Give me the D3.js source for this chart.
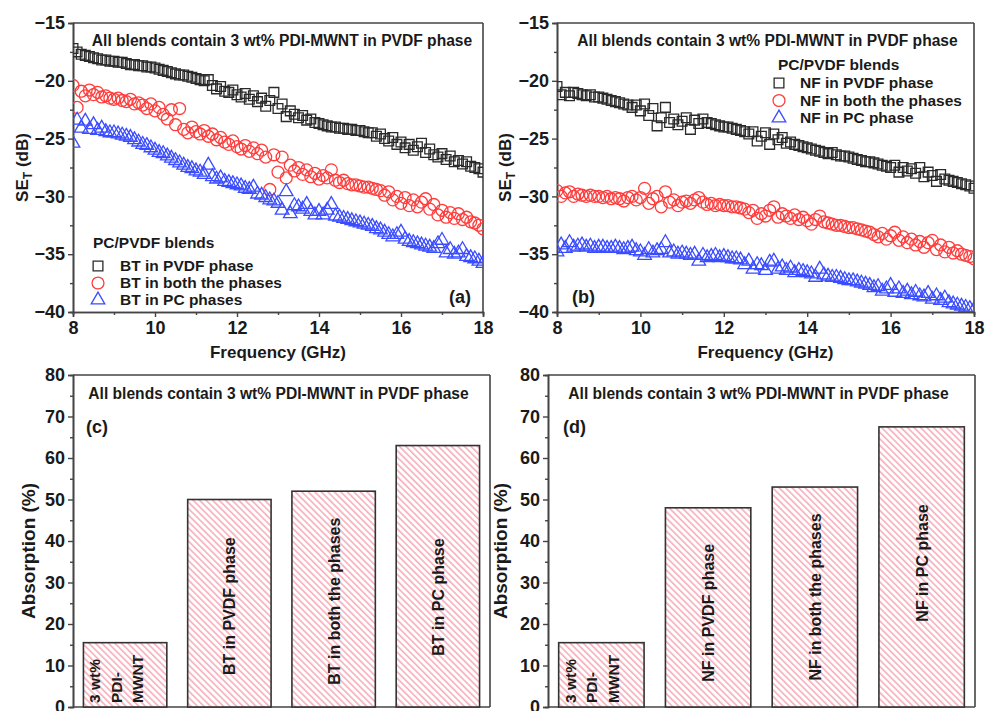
<!DOCTYPE html>
<html><head><meta charset="utf-8">
<script src="https://cdn.jsdelivr.net/npm/d3@7"></script>
<style>
body{margin:0;background:#fff;}
svg{display:block;font-family:"Liberation Sans",Arial,sans-serif;font-weight:bold;}
</style></head><body>
<svg id="c" width="985" height="711"></svg>
<script>
// ---------- DATA ----------
const freq = [8.0,8.1,8.2,8.3,8.4,8.5,8.6,8.7,8.8,8.9,9.0,9.1,9.2,9.3,9.4,9.5,9.6,9.7,9.8,9.9,
10.0,10.1,10.2,10.3,10.4,10.5,10.6,10.7,10.8,10.9,11.0,11.1,11.2,11.3,11.4,11.5,11.6,11.7,11.8,11.9,
12.0,12.1,12.2,12.3,12.4,12.5,12.6,12.7,12.8,12.9,13.0,13.1,13.2,13.3,13.4,13.5,13.6,13.7,13.8,13.9,
14.0,14.1,14.2,14.3,14.4,14.5,14.6,14.7,14.8,14.9,15.0,15.1,15.2,15.3,15.4,15.5,15.6,15.7,15.8,15.9,
16.0,16.1,16.2,16.3,16.4,16.5,16.6,16.7,16.8,16.9,17.0,17.1,17.2,17.3,17.4,17.5,17.6,17.7,17.8,17.9,18.0];

const btPVDF = [-17.2,-17.5,-17.7,-17.8,-17.9,-18.0,-18.1,-18.2,-18.2,-18.3,-18.3,-18.4,-18.4,-18.5,-18.6,-18.6,-18.7,-18.7,-18.8,-18.8,
-18.9,-19.0,-19.1,-19.2,-19.3,-19.4,-19.5,-19.5,-19.6,-19.7,-19.8,-19.9,-20.0,-19.9,-20.4,-20.7,-20.5,-20.9,-21.0,-20.8,
-21.2,-21.4,-21.1,-21.6,-21.3,-21.8,-21.5,-22.2,-21.7,-21.0,-22.4,-22.0,-23.1,-22.6,-22.9,-23.2,-23.0,-23.4,-23.3,-23.6,
-23.7,-23.8,-23.9,-24.0,-24.0,-24.1,-24.1,-24.2,-24.2,-24.3,-24.3,-24.4,-24.5,-24.5,-24.8,-24.6,-25.0,-25.2,-24.9,-25.5,
-25.3,-25.8,-25.5,-26.0,-25.7,-25.4,-26.2,-25.9,-26.4,-26.6,-26.3,-26.8,-26.5,-27.0,-26.9,-27.2,-27.0,-27.4,-27.5,-27.6,-27.9];

const btBoth = [-20.4,-22.3,-20.9,-21.3,-20.8,-21.2,-21.0,-21.4,-21.3,-21.5,-21.6,-21.5,-21.7,-21.8,-21.6,-22.0,-21.9,-22.1,-22.4,-22.0,
-22.6,-22.3,-22.9,-23.3,-22.5,-23.8,-22.4,-24.2,-24.5,-24.0,-24.4,-24.6,-24.3,-24.8,-24.6,-25.1,-24.9,-25.3,-25.5,-25.2,
-25.7,-25.9,-25.6,-26.1,-25.8,-26.3,-26.0,-26.6,-29.4,-26.4,-27.9,-26.6,-28.4,-27.3,-27.8,-27.5,-28.1,-27.7,-28.3,-28.0,
-28.5,-28.2,-28.4,-27.7,-28.6,-28.8,-28.6,-28.9,-29.0,-29.0,-29.1,-29.2,-29.2,-29.3,-29.4,-29.5,-29.9,-29.6,-30.3,-30.0,
-30.6,-30.1,-30.8,-30.3,-30.9,-30.5,-30.2,-31.1,-30.7,-31.6,-31.2,-31.8,-31.4,-31.9,-31.5,-32.0,-31.8,-32.2,-32.3,-32.5,-32.8];

const btPC = [-25.4,-23.4,-24.1,-23.5,-24.2,-23.8,-24.3,-24.1,-24.4,-24.5,-24.5,-24.6,-24.7,-24.8,-24.9,-25.1,-25.3,-25.5,-25.6,-25.8,
-26.0,-26.2,-26.3,-26.5,-26.7,-26.9,-27.1,-27.3,-27.5,-27.6,-27.8,-27.9,-28.1,-27.3,-28.3,-28.5,-28.4,-28.7,-28.8,-28.9,
-29.0,-29.1,-29.3,-29.4,-29.2,-29.8,-29.9,-30.1,-30.3,-30.4,-30.6,-31.2,-29.6,-31.5,-30.8,-30.9,-31.1,-30.7,-31.3,-31.6,
-31.3,-31.6,-31.2,-30.7,-31.7,-31.8,-31.9,-32.0,-32.1,-32.2,-32.3,-32.4,-32.5,-32.6,-32.8,-32.9,-33.1,-33.3,-33.5,-33.3,
-33.1,-33.7,-33.9,-34.0,-34.1,-34.2,-34.3,-34.4,-34.5,-34.1,-33.8,-34.9,-34.6,-35.0,-34.9,-34.6,-35.2,-35.3,-35.4,-35.6,-35.8];

const nfPVDF = [-20.5,-21.2,-21.0,-21.3,-21.0,-21.1,-21.2,-21.3,-21.2,-21.4,-21.4,-21.5,-21.6,-21.7,-21.8,-21.9,-22.0,-22.1,-22.3,-22.1,
-22.6,-22.0,-23.0,-22.4,-23.9,-23.2,-22.3,-23.6,-23.3,-23.8,-23.5,-23.2,-24.2,-23.4,-23.7,-23.3,-23.6,-23.7,-23.8,-23.9,
-24.0,-24.0,-24.1,-24.2,-24.3,-24.4,-24.6,-24.4,-25.2,-24.8,-24.5,-25.5,-24.6,-25.1,-24.9,-25.4,-25.3,-25.5,-25.6,-25.7,
-25.8,-25.9,-26.0,-26.1,-26.2,-26.3,-26.2,-26.4,-26.5,-26.5,-26.6,-26.7,-26.8,-26.9,-27.0,-27.0,-27.1,-27.2,-27.3,-27.4,
-27.5,-27.3,-27.9,-27.5,-27.8,-27.6,-28.0,-27.5,-28.3,-27.9,-28.2,-28.7,-28.1,-28.5,-28.6,-28.7,-28.8,-28.9,-29.0,-29.1,-29.3];

const nfBoth = [-29.5,-30.0,-29.7,-29.6,-30.0,-29.8,-29.9,-30.0,-29.9,-30.0,-30.0,-30.1,-30.0,-30.2,-30.1,-30.2,-30.4,-30.1,-30.0,-30.3,
-30.1,-29.3,-30.6,-30.2,-30.0,-30.9,-29.6,-30.5,-30.3,-30.8,-30.5,-30.4,-30.6,-30.3,-30.1,-30.5,-30.7,-30.6,-30.8,-30.7,
-30.8,-30.8,-30.9,-30.9,-31.0,-31.1,-31.4,-31.2,-31.9,-31.5,-31.7,-31.2,-30.9,-31.8,-31.5,-31.7,-31.9,-31.6,-32.0,-31.8,
-32.1,-32.4,-32.0,-31.7,-32.2,-32.3,-32.4,-32.5,-32.5,-32.6,-32.7,-32.7,-32.8,-32.9,-33.0,-33.1,-33.3,-33.5,-33.2,-33.7,
-33.4,-33.1,-33.8,-33.5,-34.0,-33.7,-34.2,-33.9,-34.4,-34.0,-33.8,-34.6,-34.2,-34.8,-34.4,-34.9,-34.7,-35.0,-35.1,-35.2,-35.4];

const nfPC = [-34.8,-34.2,-34.5,-34.0,-34.4,-34.3,-34.2,-34.4,-34.3,-34.5,-34.4,-34.4,-34.5,-34.5,-34.4,-34.5,-34.6,-34.5,-34.4,-34.7,
-34.8,-35.1,-34.6,-34.9,-34.7,-34.6,-34.0,-34.9,-34.8,-35.0,-34.9,-35.0,-35.1,-35.0,-35.6,-35.1,-35.3,-35.2,-35.1,-35.3,
-35.2,-35.3,-35.4,-35.4,-35.5,-35.9,-35.6,-36.3,-35.9,-36.0,-36.4,-35.7,-35.6,-36.3,-36.1,-36.4,-36.2,-36.6,-36.4,-36.5,
-36.6,-36.7,-37.0,-36.3,-36.8,-36.9,-37.0,-37.0,-37.1,-37.2,-37.3,-37.3,-37.4,-37.5,-37.6,-37.7,-37.9,-37.8,-38.2,-38.0,
-37.7,-38.3,-38.0,-38.4,-38.2,-38.5,-38.3,-38.6,-38.7,-38.4,-38.9,-38.6,-39.0,-38.8,-39.2,-39.3,-39.4,-39.5,-39.6,-39.7,-39.8];

const legendA = ["BT in PVDF phase","BT in both the phases","BT in PC phases"];
const legendB = ["NF in PVDF phase","NF in both the phases","NF in PC phase"];
const freqTicks = [8,10,12,14,16,18];
const seTicks = [-40,-35,-30,-25,-20,-15];
const absTicks = [0,10,20,30,40,50,60,70,80];

const barCatsC = ["3 wt% PDI-MWNT","BT in PVDF phase","BT in both the phases","BT in PC phase"];
const barValsC = [15.5,50,52,63];
const barCatsD = ["3 wt% PDI-MWNT","NF in PVDF phase","NF in both the phases","NF in PC phase"];
const barValsD = [15.5,48,53,67.5];
const noteText = "All blends contain 3 wt% PDI-MWNT in PVDF phase";

// ---------- DRAW ----------
const svg = d3.select("#c");
const axisCol = "#444";
const txtCol = "#1a1a1a";
const colors = ["#2a2a2a","#ff3c3c","#3a4cff"];
const symbols = [d3.symbolSquare, d3.symbolCircle, d3.symbolTriangle];
const symSizes = [95, 112, 80];

const defs = svg.append("defs");
const pat = defs.append("pattern").attr("id","hatch").attr("patternUnits","userSpaceOnUse")
  .attr("width",4.6).attr("height",4.6).attr("patternTransform","rotate(45)");
pat.append("rect").attr("width",4.6).attr("height",4.6).attr("fill","#fff");
pat.append("line").attr("x1",0).attr("y1",1).attr("x2",4.6).attr("y2",1)
  .attr("stroke","#f59aab").attr("stroke-width",1.3);

function styleAxis(g){
  g.select(".domain").attr("stroke",axisCol).attr("stroke-width",1.6);
  g.selectAll(".tick line").attr("stroke",axisCol).attr("stroke-width",1.4);
  g.selectAll(".tick text").attr("fill",txtCol).attr("font-weight","bold");
}

function scatterPanel(id, x0, x1, seriesList, legendLabels, opts){
  const y0 = 23, y1 = 312;
  const x = d3.scaleLinear().domain([8,18]).range([x0,x1]);
  const y = d3.scaleLinear().domain([-40,-15]).range([y1,y0]);
  const g = svg.append("g");
  defs.append("clipPath").attr("id","clip"+id).append("rect")
    .attr("x",x0).attr("y",y0).attr("width",x1-x0).attr("height",y1-y0);
  const xm = g.append("g").attr("transform",`translate(0,${y1})`)
    .call(d3.axisBottom(x).tickValues([9,11,13,15,17]).tickSize(3).tickFormat(""));
  styleAxis(xm);
  const ym = g.append("g").attr("transform",`translate(${x0},0)`)
    .call(d3.axisLeft(y).tickValues([-37.5,-32.5,-27.5,-22.5,-17.5]).tickSize(3).tickFormat(""));
  styleAxis(ym);
  const xa = g.append("g").attr("transform",`translate(0,${y1})`)
    .call(d3.axisBottom(x).tickValues(freqTicks).tickSize(5).tickPadding(4).tickFormat(d3.format("d")));
  styleAxis(xa); xa.selectAll("text").attr("font-size",18);
  const ya = g.append("g").attr("transform",`translate(${x0},0)`)
    .call(d3.axisLeft(y).tickValues(seTicks).tickSize(5).tickPadding(3).tickFormat(d3.format("d")));
  styleAxis(ya); ya.selectAll("text").attr("font-size",18);
  g.append("line").attr("x1",x0).attr("x2",x1).attr("y1",y0).attr("y2",y0).attr("stroke",axisCol).attr("stroke-width",1.6);
  g.append("line").attr("x1",x1).attr("x2",x1).attr("y1",y0).attr("y2",y1).attr("stroke",axisCol).attr("stroke-width",1.6);
  const pg = g.append("g").attr("clip-path",`url(#clip${id})`);
  seriesList.forEach((vals,si)=>{
    const sym = d3.symbol().type(symbols[si]).size(symSizes[si]);
    pg.append("g").selectAll("path").data(vals).join("path")
      .attr("transform",(d,i)=>`translate(${x(freq[i])},${y(d)})`)
      .attr("d",sym()).attr("fill","none").attr("stroke",colors[si]).attr("stroke-width",1.3);
  });
  g.append("text").attr("x",(x0+x1)/2+(opts.noteDx||0)).attr("y",46).attr("text-anchor","middle")
    .attr("font-size",15.6).attr("fill",txtCol).text(noteText);
  g.append("text").attr("x",(x0+x1)/2).attr("y",358).attr("text-anchor","middle")
    .attr("font-size",17).attr("fill",txtCol).text("Frequency (GHz)");
  const yl = g.append("text").attr("transform",`translate(${opts.ylabX},${(y0+y1)/2}) rotate(-90)`)
    .attr("text-anchor","middle").attr("font-size",17).attr("fill",txtCol);
  yl.append("tspan").text("SE");
  yl.append("tspan").attr("font-size",12).attr("dy",4).text("T");
  yl.append("tspan").attr("dy",-4).text(" (dB)");
  g.append("text").attr("x",opts.letterX).attr("y",303).attr("font-size",18).attr("fill",txtCol).text(opts.letter);
  const L = opts.legend;
  g.append("text").attr("x",L.x).attr("y",L.y).attr("font-size",15.5).attr("fill",txtCol).text("PC/PVDF blends");
  legendLabels.forEach((lab,i)=>{
    const yy = L.y + L.first + L.dy*i;
    g.append("path").attr("transform",`translate(${L.mx},${yy-5})`)
      .attr("d",d3.symbol().type(symbols[i]).size(symSizes[i])())
      .attr("fill","none").attr("stroke",colors[i]).attr("stroke-width",1.3);
    g.append("text").attr("x",L.tx).attr("y",yy).attr("font-size",15.5).attr("fill",txtCol).text(lab);
  });
}

scatterPanel("a",73,483,[btPVDF,btBoth,btPC],legendA,
  {ylabX:28, letter:"(a)", letterX:449, noteDx:4, legend:{x:93,y:248,first:23,dy:17,mx:98,tx:120}});
scatterPanel("b",557,974,[nfPVDF,nfBoth,nfPC],legendB,
  {ylabX:511, letter:"(b)", letterX:572, noteDx:2, legend:{x:778,y:70,first:18,dy:17.5,mx:779,tx:800}});

function barPanel(x0,x1,cats,vals,letter,letterX,ylabX,labelMid){
  const y0 = 375, y1 = 707;
  const x = d3.scaleBand().domain(cats).range([x0,x1]).paddingInner(0.2).paddingOuter(0.1);
  const y = d3.scaleLinear().domain([0,80]).range([y1,y0]);
  const g = svg.append("g");
  const ym = g.append("g").attr("transform",`translate(${x0},0)`)
    .call(d3.axisLeft(y).tickValues([5,15,25,35,45,55,65,75]).tickSize(3).tickFormat(""));
  styleAxis(ym);
  const ya = g.append("g").attr("transform",`translate(${x0},0)`)
    .call(d3.axisLeft(y).tickValues(absTicks).tickSize(5).tickPadding(3));
  styleAxis(ya); ya.selectAll("text").attr("font-size",18);
  g.append("line").attr("x1",x0).attr("x2",x1).attr("y1",y0).attr("y2",y0).attr("stroke",axisCol).attr("stroke-width",1.6);
  g.append("line").attr("x1",x1).attr("x2",x1).attr("y1",y0).attr("y2",y1).attr("stroke",axisCol).attr("stroke-width",1.6);
  g.append("line").attr("x1",x0).attr("x2",x1).attr("y1",y1).attr("y2",y1).attr("stroke",axisCol).attr("stroke-width",1.6);
  g.selectAll("rect.bar").data(vals).join("rect").attr("class","bar")
    .attr("x",(d,i)=>x(cats[i])).attr("width",x.bandwidth())
    .attr("y",d=>y(d)).attr("height",d=>y1-y(d))
    .attr("fill","url(#hatch)").attr("stroke","#333").attr("stroke-width",1.6);
  cats.forEach((c,i)=>{
    const cx = x(c)+x.bandwidth()/2;
    if(i===0){
      const parts = ["3 wt%","PDI-","MWNT"];
      parts.forEach((p,k)=>{
        g.append("text").attr("transform",`translate(${x(c)+17+k*21.5},${y1-4}) rotate(-90)`)
          .attr("font-size",15.5).attr("fill",txtCol).text(p);
      });
    } else {
      g.append("text").attr("transform",`translate(${cx+6},${y(labelMid[i])}) rotate(-90)`)
        .attr("text-anchor","middle").attr("font-size",16).attr("fill",txtCol).text(c);
    }
  });
  g.append("text").attr("x",(x0+x1)/2-3).attr("y",399).attr("text-anchor","middle")
    .attr("font-size",15.6).attr("fill",txtCol).text(noteText);
  g.append("text").attr("x",letterX).attr("y",433).attr("font-size",18).attr("fill",txtCol).text(letter);
  g.append("text").attr("transform",`translate(${ylabX},${(y0+y1)/2+10}) rotate(-90)`)
    .attr("text-anchor","middle").attr("font-size",19).attr("fill",txtCol).text("Absorption (%)");
}
const labelMidC = [0,24.3,25.5,26.5];
const labelMidD = [0,22.7,26.5,34.7];
barPanel(73,490,barCatsC,barValsC,"(c)",86,35,labelMidC);
barPanel(548,975,barCatsD,barValsD,"(d)",563,507,labelMidD);
</script></body></html>
